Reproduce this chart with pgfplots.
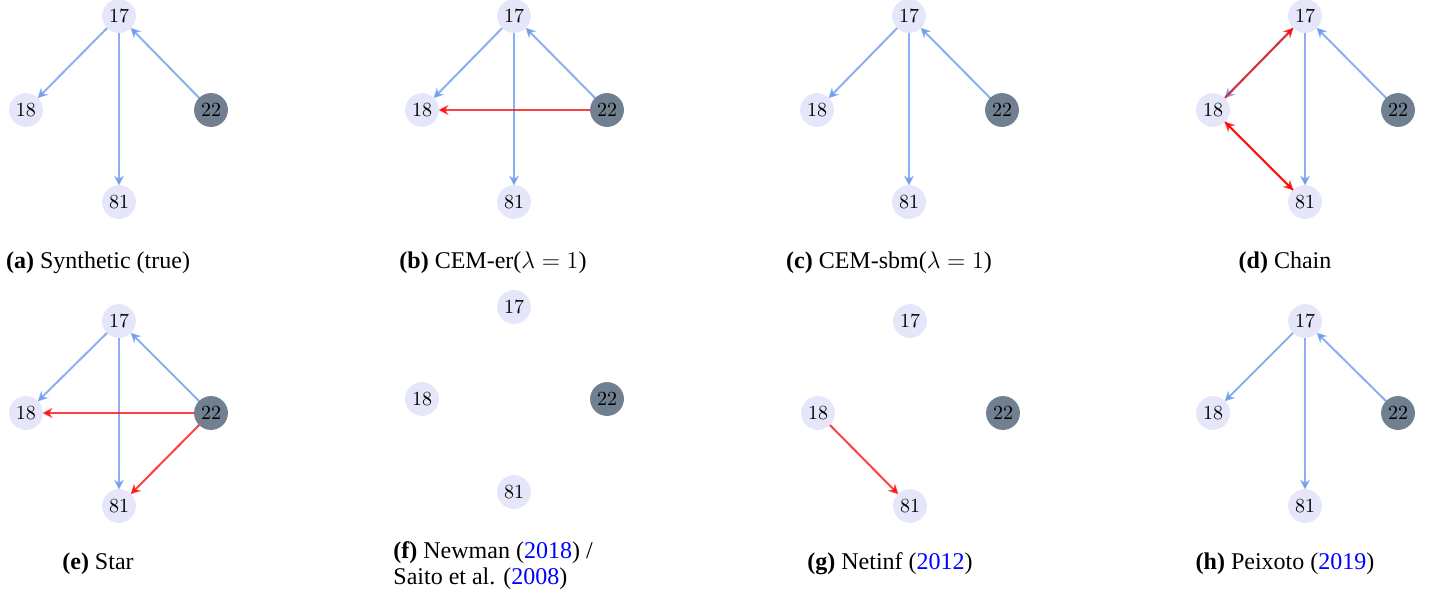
\documentclass[border=0pt]{standalone}
\usepackage{fontspec}
\setmainfont{Liberation Serif}
\usepackage{pgfplots}
\pgfplotsset{compat=1.18}
\usetikzlibrary{arrows.meta}
\definecolor{nodelight}{HTML}{E6E6FA}
\definecolor{nodedark}{HTML}{708090}
\definecolor{edgeblue}{HTML}{6495ED}
\definecolor{edgered}{HTML}{FF0000}
\definecolor{citeblue}{HTML}{0000FF}

\pgfplotstableread{
x y l
119 16 17
26 110 18
119 202 81
514 16 17
422 110 18
514 202 81
909 16 17
817 110 18
909 202 81
1305 16 17
1213 110 18
1305 202 81
119 321 17
26 413 18
119 506 81
514 307 17
422 399 18
514 492 81
910 321 17
818 413 18
910 506 81
1305 321 17
1213 413 18
1305 506 81
}\lightnodes

\pgfplotstableread{
x y l
211 110 22
607 110 22
1002 110 22
1398 110 22
211 413 22
607 399 22
1003 413 22
1398 413 22
}\darknodes

\pgfplotsset{
  edgeB/.style={-{Stealth[length=5pt,width=5pt]}, edgeblue, line width=1pt, opacity=0.75, shorten <=8pt, shorten >=8.25pt},
  edgeR/.style={-{Stealth[length=5pt,width=5pt]}, edgered, line width=1pt, opacity=0.75, shorten <=8pt, shorten >=8.25pt},
  graphnodes/.style={only marks, mark=*, mark size=8.25pt,
    nodes near coords={$\pgfplotspointmeta$}, point meta=explicit symbolic,
    every node near coord/.append style={anchor=center, text=black, font=\fontsize{10}{12}\selectfont}},
}

\begin{document}
\begin{tikzpicture}
\begin{axis}[
  width=716pt, height=294.5pt, scale only axis,
  xmin=0, xmax=1432, ymin=0, ymax=589, y dir=reverse,
  hide axis, clip=false,
]
% (a) Synthetic (true)
\addplot[edgeB] coordinates {(119,16) (26,110)};
\addplot[edgeB] coordinates {(119,16) (119,202)};
\addplot[edgeB] coordinates {(211,110) (119,16)};
% (b) CEM-er
\addplot[edgeB] coordinates {(514,16) (422,110)};
\addplot[edgeB] coordinates {(514,16) (514,202)};
\addplot[edgeB] coordinates {(607,110) (514,16)};
\addplot[edgeR] coordinates {(607,110) (422,110)};
% (c) CEM-sbm
\addplot[edgeB] coordinates {(909,16) (817,110)};
\addplot[edgeB] coordinates {(909,16) (909,202)};
\addplot[edgeB] coordinates {(1002,110) (909,16)};
% (d) Chain
\addplot[edgeB] coordinates {(1305,16) (1213,110)};
\addplot[edgeB] coordinates {(1305,16) (1305,202)};
\addplot[edgeB] coordinates {(1398,110) (1305,16)};
\addplot[edgeR] coordinates {(1213,110) (1305,16)};
\addplot[edgeR] coordinates {(1213,110) (1305,202)};
\addplot[edgeR] coordinates {(1305,202) (1213,110)};
% (e) Star
\addplot[edgeB] coordinates {(119,321) (26,413)};
\addplot[edgeB] coordinates {(119,321) (119,506)};
\addplot[edgeB] coordinates {(211,413) (119,321)};
\addplot[edgeR] coordinates {(211,413) (26,413)};
\addplot[edgeR] coordinates {(211,413) (119,506)};
% (g) Netinf
\addplot[edgeR] coordinates {(818,413) (910,506)};
% (h) Peixoto
\addplot[edgeB] coordinates {(1305,321) (1213,413)};
\addplot[edgeB] coordinates {(1305,321) (1305,506)};
\addplot[edgeB] coordinates {(1398,413) (1305,321)};

% nodes
\addplot[graphnodes, nodelight] table[x=x, y=y, meta=l] {\lightnodes};
\addplot[graphnodes, nodedark] table[x=x, y=y, meta=l] {\darknodes};

% captions
\node[anchor=base, font=\fontsize{12}{14}\selectfont] at (axis cs:98,268) {\textbf{(a)} Synthetic (true)};
\node[anchor=base, font=\fontsize{12}{14}\selectfont] at (axis cs:493,268) {\textbf{(b)} CEM-er($\lambda=1$)};
\node[anchor=base, font=\fontsize{12}{14}\selectfont] at (axis cs:889,268) {\textbf{(c)} CEM-sbm($\lambda=1$)};
\node[anchor=base, font=\fontsize{12}{14}\selectfont] at (axis cs:1285,268) {\textbf{(d)} Chain};
\node[anchor=base, font=\fontsize{12}{14}\selectfont] at (axis cs:98,569) {\textbf{(e)} Star};
\node[anchor=base west, font=\fontsize{12}{14}\selectfont, inner sep=0pt] at (axis cs:393,558) {\textbf{(f)} Newman (\textcolor{citeblue}{2018}) /};
\node[anchor=base west, font=\fontsize{12}{14}\selectfont, inner sep=0pt] at (axis cs:393,584) {Saito et al. (\textcolor{citeblue}{2008})};
\node[anchor=base, font=\fontsize{12}{14}\selectfont] at (axis cs:890,569) {\textbf{(g)} Netinf (\textcolor{citeblue}{2012})};
\node[anchor=base, font=\fontsize{12}{14}\selectfont] at (axis cs:1285,569) {\textbf{(h)} Peixoto (\textcolor{citeblue}{2019})};
\end{axis}
\pgfresetboundingbox
\path (current axis.south west) rectangle (current axis.north east);
\end{tikzpicture}
\end{document}
